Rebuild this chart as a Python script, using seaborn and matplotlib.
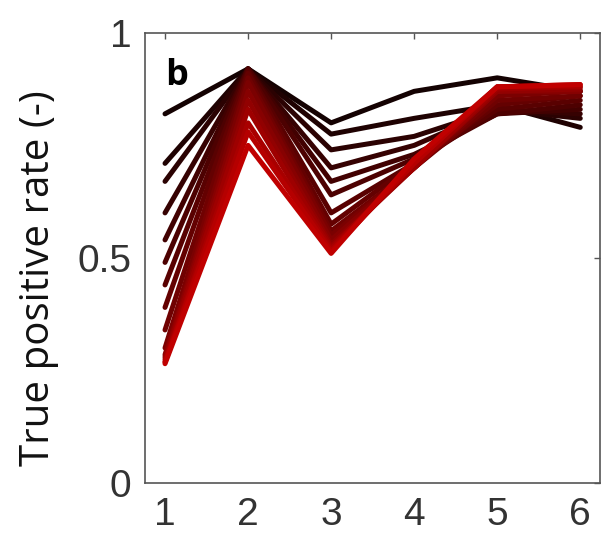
import matplotlib
matplotlib.use("Agg")
import matplotlib.pyplot as plt
import seaborn as sns
import pandas as pd

# Données : taux de vrais positifs pour chaque courbe (noir -> rouge)
steps = [1, 2, 3, 4, 5, 6]
tpr_1 = [0.82, 0.71, 0.67, 0.60, 0.54, 0.49, 0.44, 0.39, 0.34, 0.30, 0.285, 0.28, 0.275, 0.27, 0.268, 0.265]
tpr_2 = [0.92, 0.92, 0.92, 0.92, 0.92, 0.92, 0.915, 0.91, 0.90, 0.89, 0.87, 0.85, 0.83, 0.80, 0.78, 0.75]
tpr_3 = [0.80, 0.775, 0.74, 0.70, 0.67, 0.64, 0.60, 0.575, 0.56, 0.55, 0.54, 0.53, 0.525, 0.52, 0.515, 0.51]
tpr_4 = [0.87, 0.81, 0.77, 0.75, 0.73, 0.72, 0.71, 0.71, 0.70, 0.70, 0.70, 0.70, 0.70, 0.71, 0.71, 0.72]
tpr_5 = [0.90, 0.84, 0.83, 0.83, 0.82, 0.82, 0.83, 0.84, 0.85, 0.86, 0.87, 0.87, 0.875, 0.88, 0.88, 0.88]
tpr_6 = [0.87, 0.79, 0.81, 0.82, 0.83, 0.84, 0.85, 0.86, 0.86, 0.87, 0.87, 0.875, 0.88, 0.88, 0.885, 0.885]

columns = [tpr_1, tpr_2, tpr_3, tpr_4, tpr_5, tpr_6]
n_runs = len(tpr_1)

rows = []
for run in range(n_runs):
    for step, col in zip(steps, columns):
        rows.append({"step": step, "tpr": col[run], "run": run})
df = pd.DataFrame(rows)

sns.set_style("white")
plt.rcParams["font.family"] = ["Liberation Sans", "DejaVu Sans"]

fig = plt.figure(figsize=(6.02, 5.47), dpi=100)
ax = fig.add_axes([0.241, 0.117, 0.756, 0.823])

palette = sns.blend_palette(["#140202", "#c00000"], n_colors=n_runs)
sns.lineplot(data=df, x="step", y="tpr", hue="run", palette=palette,
             linewidth=3.6, legend=False, ax=ax)

ax.set_xlim(0.76, 6.24)
ax.set_ylim(0, 1)
ax.set_xticks(steps)
ax.set_yticks([0, 0.5, 1])
ax.set_yticklabels(["0", "0.5", "1"])
ax.set_xlabel("")
ax.set_ylabel("True positive rate (-)", fontsize=29, color="#111111",
              family=["Open Sans", "DejaVu Sans"])
ax.yaxis.set_label_coords(-0.19, 0.455)

for sp in ax.spines.values():
    sp.set_visible(True)
    sp.set_color("#555555")
    sp.set_linewidth(1.2)
ax.tick_params(direction="in", length=4, width=1, colors="#555555",
               top=True, right=True, labelsize=28, labelcolor="#333333", pad=10)

ax.text(0.045, 0.905, "b", transform=ax.transAxes, fontsize=26,
        fontweight="bold", va="center", ha="left", color="black",
        family=["Open Sans", "DejaVu Sans"])

fig.savefig("out.png", dpi=100)
